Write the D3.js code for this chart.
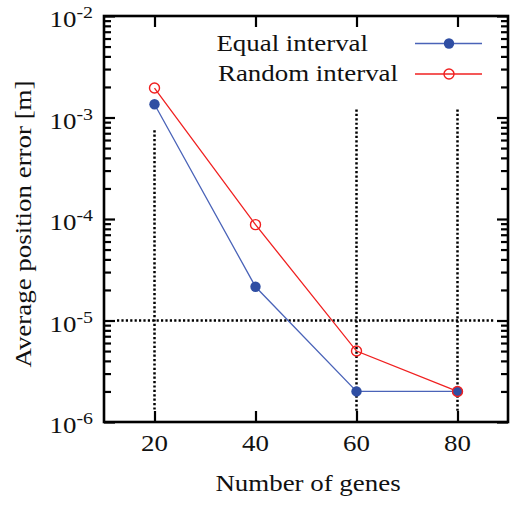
<!DOCTYPE html>
<html>
<head>
<meta charset="utf-8">
<script src="https://cdnjs.cloudflare.com/ajax/libs/d3/7.8.5/d3.min.js"></script>
<style>
	body { margin: 0; background: #fff; }
	svg text { font-family: "Liberation Serif", "Times New Roman", serif; fill: #111; }
</style>
</head>
<body>
<div id="graphic"></div>
<script>
// data
const genes = [20, 40, 60, 80];
const equalInterval = [1.35e-3, 2.15e-5, 2.0e-6, 2.0e-6];
const randomInterval = [1.95e-3, 8.8e-5, 5.0e-6, 2.0e-6];
const seriesNames = ['Equal interval', 'Random interval'];
const xTicks = [20, 40, 60, 80];
const yDecades = [1e-6, 1e-5, 1e-4, 1e-3, 1e-2];
const yTickExp = ['-6', '-5', '-4', '-3', '-2'];
// dotted reference lines: vertical ones stop below the key
const gridX = [20, 60, 80];
const gridXTop = [7.5e-4, 1.2e-3, 1.2e-3];
const gridY = [1e-5];

const width = 511, height = 514;
const margin = { left: 104, right: 3, top: 16, bottom: 92 };
const blue = '#2f4ea3', blueLine = '#4a63b8', red = '#f02020';
const fontSize = 23, stretch = 1.17; // the original typeface is wider than Times

const svg = d3.select('#graphic').append('svg')
	.attr('width', width)
	.attr('height', height);

const x = d3.scaleLinear()
	.domain([10, 90])
	.range([margin.left, width - margin.right]);

const y = d3.scaleLog()
	.domain([1e-6, 1e-2])
	.range([height - margin.bottom, margin.top]);

const x0 = x.range()[0], x1 = x.range()[1];
const y0 = y.range()[0], y1 = y.range()[1];
const majorLen = 11, minorLen = 7;

// text helper, stretched along the writing direction
function addText(tx, ty, anchor, rotate) {
	return svg.append('g')
		.attr('transform', `translate(${tx},${ty})${rotate ? ` rotate(${rotate})` : ''} scale(${stretch},1)`)
		.append('text')
		.attr('text-anchor', anchor)
		.style('font-size', fontSize + 'px');
}

// minor log ticks 2..9 in every decade
const minors = [];
yDecades.slice(0, -1).forEach(d => {
	for (let k = 2; k <= 9; k++) minors.push(d * k);
});

// dotted grid
gridX.forEach((g, i) => {
	svg.append('line')
		.attr('x1', x(g)).attr('x2', x(g))
		.attr('y1', y(gridXTop[i])).attr('y2', y0 - majorLen)
		.attr('stroke', '#000')
		.attr('stroke-width', 2.5)
		.attr('stroke-dasharray', '2.2,2.2');
});
gridY.forEach(g => {
	svg.append('line')
		.attr('x1', x0 + majorLen + 2).attr('x2', x1 - majorLen - 2)
		.attr('y1', y(g)).attr('y2', y(g))
		.attr('stroke', '#000')
		.attr('stroke-width', 2.5)
		.attr('stroke-dasharray', '2.2,2.2');
});

// axes ticks drawn inward on all four sides
function tickAxis(gen, tx, ty) {
	svg.append('g')
		.attr('transform', `translate(${tx},${ty})`)
		.call(gen)
		.call(g => g.select('.domain').remove())
		.call(g => g.selectAll('.tick line').attr('stroke', '#000').attr('stroke-width', 2.2))
		.call(g => g.selectAll('.tick text').remove());
}
tickAxis(d3.axisLeft(y).tickValues(yDecades).tickSize(-majorLen), x0, 0);
tickAxis(d3.axisLeft(y).tickValues(minors).tickSize(-minorLen), x0, 0);
tickAxis(d3.axisRight(y).tickValues(yDecades).tickSize(-majorLen), x1, 0);
tickAxis(d3.axisRight(y).tickValues(minors).tickSize(-minorLen), x1, 0);
tickAxis(d3.axisBottom(x).tickValues(xTicks).tickSize(-majorLen), 0, y0);
tickAxis(d3.axisTop(x).tickValues(xTicks).tickSize(-majorLen), 0, y1);

// frame
svg.append('rect')
	.attr('x', x0).attr('y', y1)
	.attr('width', x1 - x0).attr('height', y0 - y1)
	.attr('fill', 'none')
	.attr('stroke', '#000')
	.attr('stroke-width', 2.6);

// y tick labels 10^n
yDecades.forEach((d, i) => {
	const t = addText(93, y(d) + 11, 'end');
	t.append('tspan').text('10');
	t.append('tspan')
		.attr('dy', -9)
		.style('font-size', '17px')
		.text(yTickExp[i]);
});

// x tick labels
xTicks.forEach(v => {
	addText(x(v), 451, 'middle').text(v);
});

// axis titles
addText((x0 + x1) / 2 + 2, 491, 'middle').text('Number of genes');
addText(31, (y0 + y1) / 2 + 5, 'middle', -90).text('Average position error [m]');

// lines
const line = d3.line()
	.x((d, i) => x(genes[i]))
	.y(d => y(d));

svg.append('path')
	.datum(randomInterval)
	.attr('fill', 'none')
	.attr('stroke', red)
	.attr('stroke-width', 1.3)
	.attr('d', line);

svg.append('path')
	.datum(equalInterval)
	.attr('fill', 'none')
	.attr('stroke', blueLine)
	.attr('stroke-width', 1.3)
	.attr('d', line);

svg.selectAll('circle.equal')
	.data(equalInterval)
	.join('circle')
	.attr('class', 'equal')
	.attr('cx', (d, i) => x(genes[i]))
	.attr('cy', d => y(d))
	.attr('r', 5.2)
	.attr('fill', blue);

svg.selectAll('circle.random')
	.data(randomInterval)
	.join('circle')
	.attr('class', 'random')
	.attr('cx', (d, i) => x(genes[i]))
	.attr('cy', d => y(d))
	.attr('r', 5)
	.attr('fill', 'none')
	.attr('stroke', red)
	.attr('stroke-width', 1.4);

// legend
const legendRows = [
	{ name: seriesNames[0], yPos: 43.5, colour: blueLine, mark: blue, filled: true, textEnd: 368 },
	{ name: seriesNames[1], yPos: 74, colour: red, mark: red, filled: false, textEnd: 398 }
];
legendRows.forEach(r => {
	addText(r.textEnd, r.yPos + 7, 'end').text(r.name);
	svg.append('line')
		.attr('x1', 415).attr('x2', 482)
		.attr('y1', r.yPos).attr('y2', r.yPos)
		.attr('stroke', r.colour)
		.attr('stroke-width', 1.3);
	svg.append('circle')
		.attr('cx', 449).attr('cy', r.yPos)
		.attr('r', r.filled ? 5.2 : 5)
		.attr('fill', r.filled ? r.mark : 'none')
		.attr('stroke', r.filled ? 'none' : r.mark)
		.attr('stroke-width', 1.4);
});
</script>
</body>
</html>
